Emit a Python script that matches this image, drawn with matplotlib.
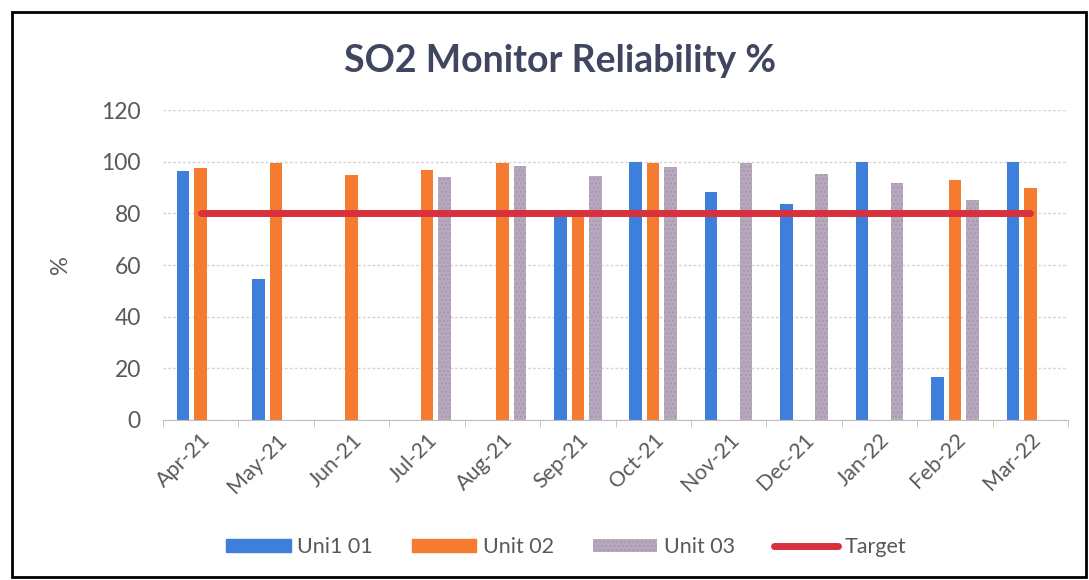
import matplotlib.pyplot as plt
import matplotlib.patches as mpatches
from matplotlib.lines import Line2D
import numpy as np

# Example data
months = ['Apr-21', 'May-21', 'Jun-21', 'Jul-21', 'Aug-21', 'Sep-21',
          'Oct-21', 'Nov-21', 'Dec-21', 'Jan-22', 'Feb-22', 'Mar-22']
unit1 = [96.5, 54.5, 0, 0, 0, 80.5, 100, 88.4, 83.5, 100, 16.5, 100]
unit2 = [97.4, 99.5, 94.9, 96.9, 99.5, 80, 99.5, 0, 0, 0, 93, 89.8]
unit3 = [0, 0, 0, 93.9, 98.4, 94.3, 97.9, 99.5, 95.4, 91.9, 85, 0]
target = [80] * len(months)
series_names = ['Uni1 01', 'Unit 02', 'Unit 03', 'Target']

plt.rcParams['font.family'] = ['Lato', 'DejaVu Sans']
txt = '#595959'

fig = plt.figure(figsize=(10.89, 5.80), dpi=100)
ax = fig.add_axes([0.1497, 0.2759, 0.8310, 0.5344])

x = np.arange(len(months))
w = 0.166
step = 0.232
c1, c2, c3 = '#3E7FDC', '#F47B30', '#B7A8BD'
ax.bar(x - step, unit1, w, color=c1, zorder=2)
ax.bar(x, unit2, w, color=c2, zorder=2)
ax.bar(x + step, unit3, w, color=c3, edgecolor='#A898AE', hatch='....',
       linewidth=0, zorder=2)
ax.plot(x, target, color='#D8303C', linewidth=5, solid_capstyle='round', zorder=3)

ax.set_xlim(-0.5, len(months) - 0.5)
ax.set_ylim(0, 120)
ax.set_yticks(range(0, 121, 20))
ax.yaxis.grid(True, color='#D4D4D4', linestyle=(0, (2, 1.5)), linewidth=1, zorder=0)
ax.set_axisbelow(True)
for s in ['top', 'right', 'left']:
    ax.spines[s].set_visible(False)
ax.spines['bottom'].set_color('#BFBFBF')
ax.tick_params(axis='y', length=0, labelsize=16.5, labelcolor=txt, pad=16)

ax.set_xticks(x)
ax.set_xticklabels(months, rotation=45, ha='right', rotation_mode='anchor',
                   fontsize=15.5, color=txt)
ax.tick_params(axis='x', length=0, pad=7)
ax.set_xticks(np.arange(-0.5, len(months), 1), minor=True)
ax.tick_params(axis='x', which='minor', length=5, color='#BFBFBF')

ax.set_ylabel('%', fontsize=17, color=txt, labelpad=22)

fig.text(0.514, 0.895, 'SO2 Monitor Reliability %', ha='center', va='center',
         fontsize=27, fontweight='bold', color='#404660')

handles = [mpatches.Patch(color=c1), mpatches.Patch(color=c2),
           mpatches.Patch(facecolor=c3, edgecolor='#A898AE', hatch='....', linewidth=0),
           Line2D([], [], color='#D8303C', linewidth=5, solid_capstyle='round')]
fig.legend(handles, series_names, loc='center', bbox_to_anchor=(0.52, 0.057),
           ncol=4, frameon=False, fontsize=15.5, handlelength=3.0,
           handleheight=0.6, handletextpad=0.3, columnspacing=1.8,
           labelcolor=txt)

# outer chart border
fig.patches.append(mpatches.Rectangle((12 / 1089, 3 / 580), 1074 / 1089, 565 / 580,
                                      transform=fig.transFigure, fill=False,
                                      edgecolor='black', linewidth=2))

fig.savefig('out.png', dpi=100)
